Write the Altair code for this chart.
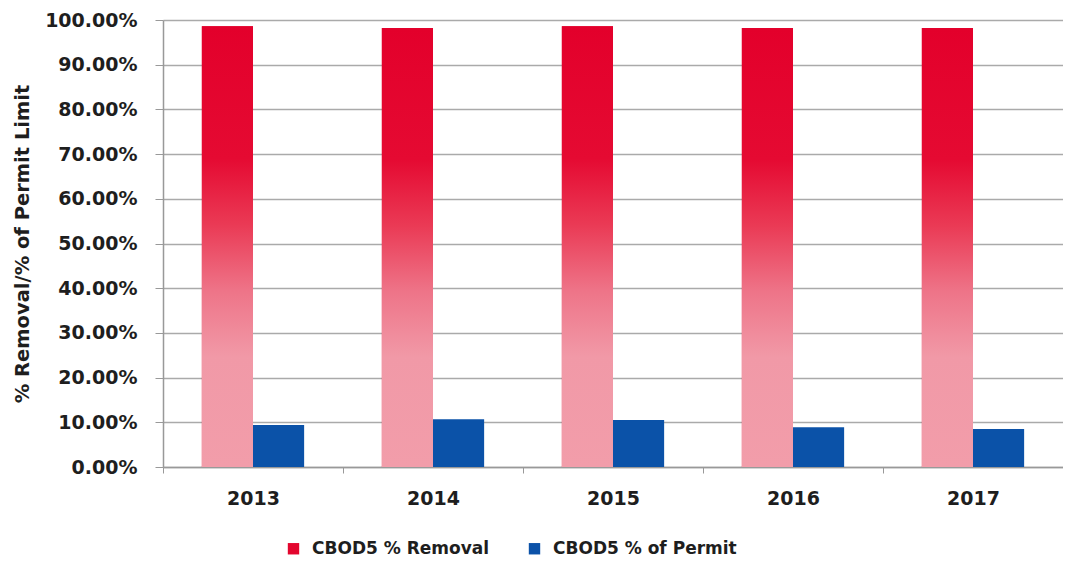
import altair as alt
import pandas as pd

years = ["2013", "2014", "2015", "2016", "2017"]
removal = [98.6, 98.2, 98.6, 98.2, 98.2]
permit = [9.4, 10.7, 10.5, 8.9, 8.5]
series = ["CBOD5 % Removal", "CBOD5 % of Permit"]
colors = ["#E3062E", "#0B52A8"]

rows = []
for y, r, p in zip(years, removal, permit):
    rows.append({"year": y, "series": series[0], "value": r / 100})
    rows.append({"year": y, "series": series[1], "value": p / 100})
df = pd.DataFrame(rows)

FONT = "DejaVu Sans"
TXT = "#1E1E1E"

x_enc = alt.X("year:N", title=None, scale=alt.Scale(paddingInner=0.0, paddingOuter=0.0),
              axis=alt.Axis(labelAngle=0, labelFontSize=19, labelFont=FONT, labelFontWeight="bold",
                            labelColor=TXT, labelPadding=16, domainColor="#999999",
                            tickBand="extent", tickColor="#999999", tickSize=6, domainWidth=1.5))
xo_enc = alt.XOffset("series:N", scale=alt.Scale(domain=series, paddingOuter=0.76, paddingInner=0.0))
y_enc = alt.Y("value:Q", title="% Removal/% of Permit Limit",
              scale=alt.Scale(domain=[0, 1], nice=False),
              axis=alt.Axis(format=".2%", values=[i / 10 for i in range(11)], labelFontSize=19,
                            labelFont=FONT, labelFontWeight="bold", labelColor=TXT, labelPadding=18,
                            titleFont=FONT, titleFontSize=19.5, titleFontWeight="bold", titleColor=TXT,
                            titlePadding=12, gridColor="#AAAAAA", gridWidth=1.5,
                            domainColor="#999999", domainWidth=1.5, tickColor="#999999", tickSize=8))

base = alt.Chart(df).mark_bar().encode(
    x=x_enc,
    xOffset=xo_enc,
    y=y_enc,
    color=alt.Color("series:N", scale=alt.Scale(domain=series, range=colors),
                    legend=alt.Legend(title=None, orient="none", legendX=122, legendY=520,
                                      direction="horizontal",
                                      symbolType="square", symbolSize=130, labelFont=FONT,
                                      labelFontSize=17, labelFontWeight="bold", labelColor=TXT,
                                      labelLimit=400, labelOffset=10,
                                      columnPadding=36, symbolStrokeWidth=0)),
)

grad = alt.Gradient(
    gradient="linear", x1=0, x2=0, y1=0, y2=1,
    stops=[
        alt.GradientStop(offset=0, color="#E3002B"),
        alt.GradientStop(offset=0.3, color="#E50A32"),
        alt.GradientStop(offset=0.45, color="#EA3A55"),
        alt.GradientStop(offset=0.6, color="#EE7488"),
        alt.GradientStop(offset=0.75, color="#F199A7"),
        alt.GradientStop(offset=1, color="#F29DAA"),
    ],
)

red = alt.Chart(df).transform_filter(alt.datum.series == series[0]).mark_bar(color=grad).encode(
    x=x_enc, xOffset=xo_enc, y=y_enc
)

chart = alt.layer(base, red).properties(
    width=900, height=447,
    autosize=alt.AutoSizeParams(type="none"),
    padding={"left": 155, "top": 12, "right": 0, "bottom": 100},
).configure_view(stroke=None).configure_axis(labelFont=FONT)

chart.save("out.html", embed_options={"renderer": "svg", "actions": False})
